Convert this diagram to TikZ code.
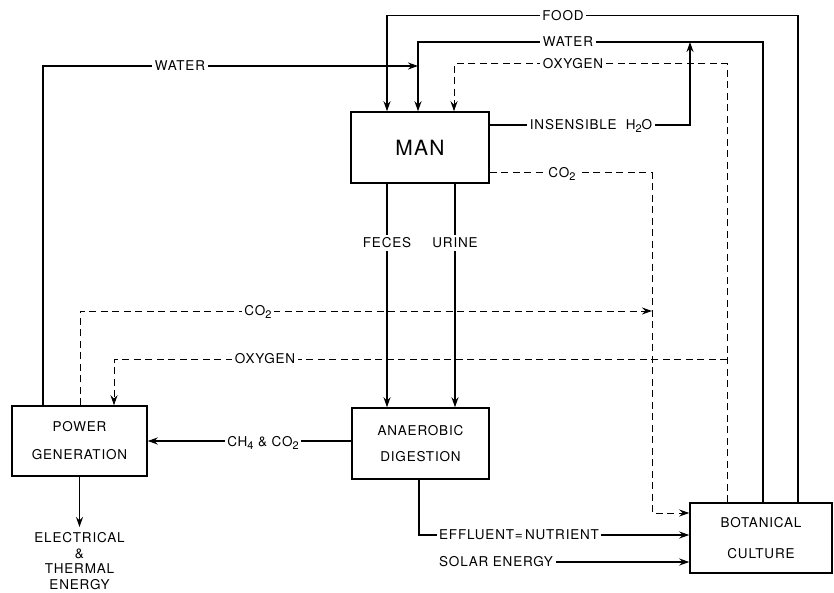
\documentclass[tikz,border=0pt]{standalone}
\usepackage{fontspec}
\setmainfont{TeX Gyre Heros}[LetterSpace=6]
\usetikzlibrary{arrows.meta}
\newcommand{\subn}[1]{\raisebox{-0.4ex}{\fontsize{11}{12}\selectfont #1}}
\begin{document}
\begin{tikzpicture}[x=1pt,y=-1pt,line width=1.3pt,
  box/.style={draw,line width=1.5pt,inner sep=0pt,align=center},
  lbl/.style={fill=white,inner sep=2.5pt,font=\fontsize{13.5}{15}\selectfont},
  arr/.style={-{Stealth[length=10pt,width=7pt]}},
  dsh/.style={dash pattern=on 7pt off 4.5pt,line width=1pt}]
\useasboundingbox (0,0) rectangle (834,593);
\fill[white] (0,0) rectangle (834,593);
% boxes
\node[box,minimum width=138pt,minimum height=71pt,font=\fontsize{21}{22}\selectfont] (man) at (420,147.5) {MAN};
\node[box,minimum width=137pt,minimum height=71pt,font=\fontsize{13.5}{26}\selectfont] (anaer) at (420.5,443.5) {ANAEROBIC\\DIGESTION};
\node[box,minimum width=135pt,minimum height=70pt,font=\fontsize{13.5}{28}\selectfont] (power) at (79.5,441) {POWER\\GENERATION};
\node[box,minimum width=142pt,minimum height=70pt,font=\fontsize{13.5}{31}\selectfont] (botan) at (761,538) {BOTANICAL\\CULTURE};
% bend coordinates
\coordinate (f1) at (798,15.5);  \coordinate (f2) at (387,15.5);
\coordinate (w1) at (763,42);    \coordinate (w2) at (418,42);
\coordinate (o1) at (727,64);    \coordinate (o2) at (454,64);
\coordinate (lw) at (43,66);
\coordinate (ih) at (690,125);
\coordinate (c1) at (652,173);   \coordinate (c2) at (652,513);
\coordinate (mc1) at (80,311);   \coordinate (mc2) at (652,311);
\coordinate (mo1) at (727,359);  \coordinate (mo2) at (114,359);
\coordinate (fe) at (387,243);   \coordinate (ur) at (455,243);
\coordinate (el) at (79.5,527);
\coordinate (ef) at (419,535);
% food
\draw[arr] (botan.north -| f1) -- (f1) -- (f2) -- (man.north -| f2);
\node[lbl] at (563,15.5) {FOOD};
% water (top)
\draw[arr] (botan.north -| w1) -- (w1) -- (w2) -- (man.north -| w2);
\node[lbl] at (568,42) {WATER};
% oxygen (top)
\draw[dsh,arr] (botan.north -| o1) -- (o1) -- (o2) -- (man.north -| o2);
\node[lbl] at (573,64) {OXYGEN};
% water from power generation
\draw[arr] (power.north -| lw) -- (lw) -- (lw -| w2);
\node[lbl] at (180,66) {WATER};
% insensible water
\draw[arr] (man.east |- ih) -- (ih) -- (ih |- w1);
\node[lbl] at (591,126) {INSENSIBLE\,\, H\subn{2}O};
% CO2 from man
\draw[dsh,arr] (man.east |- c1) -- (c1) -- (c2) -- (c2 -| botan.west);
\node[lbl] at (562,174) {CO\subn{2}};
% CO2 from power generation
\draw[dsh,arr] (power.north -| mc1) -- (mc1) -- (mc2);
\node[lbl] at (258,312) {CO\subn{2}};
% oxygen to power generation
\draw[dsh,arr] (mo1) -- (mo2) -- (power.north -| mo2);
\node[lbl] at (265,359) {OXYGEN};
% feces, urine
\draw[arr] (man.south -| fe) -- (anaer.north -| fe);
\node[lbl] at (fe) {FECES};
\draw[arr] (man.south -| ur) -- (anaer.north -| ur);
\node[lbl] at (ur) {URINE};
% CH4 & CO2
\draw[arr] (anaer.west |- power.east) -- (power.east);
\node[lbl] at (263,443) {CH\subn{4} \& CO\subn{2}};
% electrical
\draw[arr] (power.south) -- (el);
\node[font=\fontsize{13.5}{15.5}\selectfont,align=center,anchor=north,inner sep=0pt] (elt) at (79.5,532) {ELECTRICAL\\\&\\THERMAL\\ENERGY};
% effluent
\draw[arr] (anaer.south -| ef) -- (ef) -- (ef -| botan.west);
\node[lbl,anchor=west] at (436,535) {EFFLUENT=\,NUTRIENT};
% solar energy
\node[lbl,anchor=west] (solar) at (436,562) {SOLAR ENERGY};
\draw[arr] (solar.east) -- (solar.east -| botan.west);
\end{tikzpicture}
\end{document}
